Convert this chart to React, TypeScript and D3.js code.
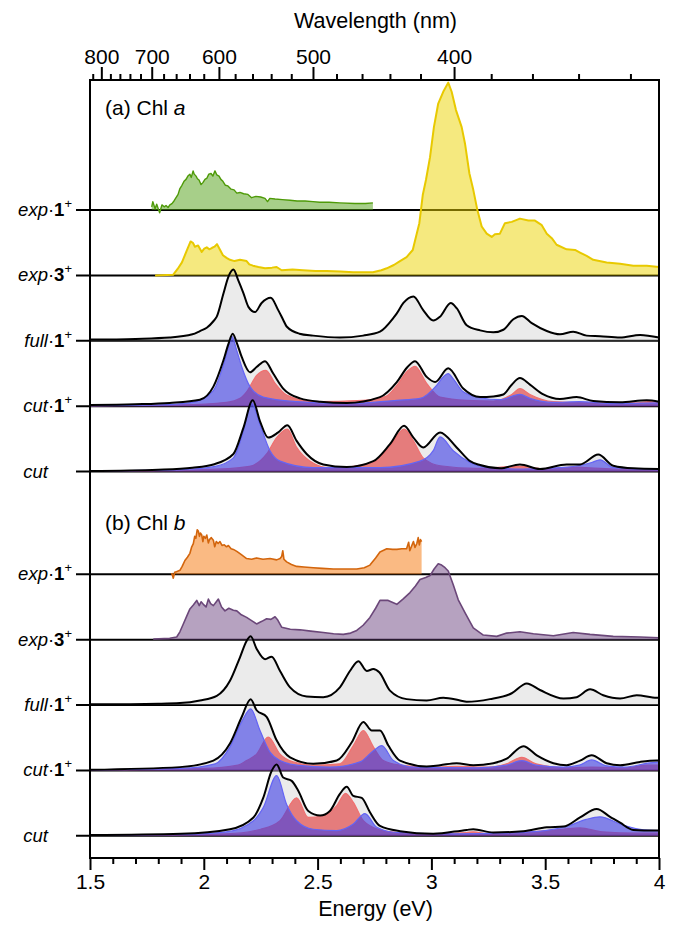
import * as d3 from 'd3';
import React, { useRef, useEffect } from 'react';

// energy axis (bottom)
const energyTicks = [1.5, 2, 2.5, 3, 3.5, 4];
const energyMinor = [1.6, 1.7, 1.8, 1.9, 2.1, 2.2, 2.3, 2.4, 2.6, 2.7, 2.8, 2.9, 3.1, 3.2, 3.3, 3.4, 3.6, 3.7, 3.8, 3.9];
// wavelength axis (top)
const wavelengthTicks = [800, 700, 600, 500, 400];
const wavelengthMinor = [820, 780, 760, 740, 720, 680, 660, 640, 620, 580, 560, 540, 520, 480, 460, 440, 420, 380, 360, 340, 320];

// [energy eV, intensity]
const expA1 = [[1.771,0.05],[1.776,0.13],[1.786,0.02],[1.793,0.09],[1.799,0.03],[1.806,-0.04],[1.816,0.08],[1.826,0.05],[1.834,0.07],[1.843,0.04],[1.851,0.08],[1.86,0.1],[1.869,0.14],[1.878,0.19],[1.887,0.24],[1.895,0.33],[1.904,0.38],[1.913,0.44],[1.922,0.47],[1.93,0.52],[1.939,0.55],[1.945,0.5],[1.953,0.6],[1.958,0.55],[1.966,0.52],[1.972,0.48],[1.979,0.46],[1.988,0.39],[1.996,0.42],[2.005,0.47],[2.014,0.49],[2.022,0.55],[2.032,0.56],[2.04,0.52],[2.049,0.6],[2.057,0.54],[2.067,0.52],[2.075,0.47],[2.084,0.44],[2.095,0.38],[2.106,0.37],[2.12,0.32],[2.133,0.31],[2.145,0.26],[2.159,0.27],[2.175,0.25],[2.194,0.24],[2.21,0.19],[2.229,0.21],[2.25,0.2],[2.269,0.18],[2.28,0.13],[2.29,0.18],[2.313,0.17],[2.345,0.16],[2.379,0.15],[2.41,0.14],[2.445,0.14],[2.48,0.13],[2.51,0.12],[2.55,0.12],[2.598,0.11],[2.664,0.1],[2.71,0.1],[2.743,0.11]];
const expA3 = [[1.786,0],[1.865,0.01],[1.885,0.1],[1.904,0.2],[1.925,0.38],[1.942,0.52],[1.952,0.5],[1.961,0.44],[1.975,0.46],[1.991,0.36],[2.002,0.41],[2.013,0.43],[2.024,0.4],[2.035,0.42],[2.047,0.44],[2.058,0.48],[2.07,0.4],[2.084,0.31],[2.1,0.27],[2.115,0.24],[2.135,0.22],[2.159,0.24],[2.188,0.22],[2.2,0.17],[2.216,0.15],[2.24,0.13],[2.269,0.11],[2.3,0.12],[2.32,0.13],[2.342,0.08],[2.39,0.09],[2.436,0.08],[2.49,0.07],[2.54,0.07],[2.6,0.06],[2.656,0.05],[2.743,0.05],[2.78,0.08],[2.804,0.11],[2.835,0.16],[2.862,0.22],[2.891,0.28],[2.918,0.39],[2.932,0.59],[2.947,0.8],[2.962,1.23],[2.976,1.46],[2.994,1.81],[3.011,2.27],[3.03,2.63],[3.052,2.81],[3.074,2.95],[3.089,2.81],[3.108,2.53],[3.133,2.27],[3.148,2.01],[3.167,1.56],[3.184,1.31],[3.202,1.0],[3.221,0.75],[3.243,0.64],[3.265,0.59],[3.279,0.63],[3.301,0.64],[3.323,0.8],[3.353,0.82],[3.389,0.87],[3.426,0.84],[3.455,0.84],[3.485,0.77],[3.507,0.64],[3.529,0.57],[3.55,0.47],[3.594,0.4],[3.631,0.39],[3.653,0.35],[3.682,0.3],[3.711,0.24],[3.77,0.2],[3.829,0.18],[3.887,0.15],[3.946,0.15],[4.0,0.13]];
const fullA = [[1.5,0.02],[1.7,0.03],[1.85,0.05],[1.95,0.1],[1.983,0.15],[2.013,0.2],[2.042,0.3],[2.057,0.37],[2.086,0.72],[2.108,0.98],[2.13,1.09],[2.152,0.92],[2.174,0.73],[2.196,0.52],[2.225,0.44],[2.254,0.58],[2.294,0.66],[2.327,0.47],[2.349,0.32],[2.364,0.22],[2.42,0.11],[2.48,0.08],[2.598,0.05],[2.7,0.08],[2.774,0.14],[2.833,0.35],[2.848,0.42],[2.877,0.58],[2.921,0.68],[2.964,0.47],[3.008,0.31],[3.038,0.37],[3.085,0.58],[3.111,0.5],[3.155,0.24],[3.214,0.16],[3.272,0.13],[3.316,0.17],[3.36,0.33],[3.397,0.38],[3.441,0.27],[3.507,0.15],[3.565,0.1],[3.623,0.14],[3.682,0.08],[3.741,0.07],[3.829,0.05],[3.917,0.09],[4.0,0.05]];
const cutA1 = [[1.5,0.02],[1.7,0.03],[1.85,0.05],[1.983,0.1],[2.042,0.3],[2.086,0.7],[2.108,0.95],[2.127,1.11],[2.145,0.97],[2.167,0.75],[2.203,0.52],[2.232,0.6],[2.269,0.69],[2.305,0.5],[2.349,0.27],[2.423,0.12],[2.511,0.07],[2.628,0.05],[2.774,0.14],[2.848,0.37],[2.895,0.6],[2.928,0.69],[2.979,0.45],[3.016,0.37],[3.074,0.58],[3.14,0.27],[3.214,0.14],[3.272,0.15],[3.316,0.18],[3.353,0.33],[3.389,0.43],[3.433,0.33],[3.492,0.18],[3.565,0.11],[3.638,0.14],[3.711,0.08],[3.829,0.06],[3.946,0.09],[4.0,0.07]];
const cutA1Blue = [[1.5,0.01],[1.8,0.02],[1.95,0.06],[2.042,0.24],[2.086,0.63],[2.108,0.9],[2.123,1.07],[2.145,0.85],[2.167,0.6],[2.203,0.3],[2.261,0.14],[2.408,0.07],[2.628,0.04],[2.848,0.09],[2.95,0.12],[3.023,0.32],[3.052,0.45],[3.074,0.5],[3.096,0.42],[3.14,0.22],[3.214,0.13],[3.301,0.1],[3.389,0.18],[3.433,0.12],[3.536,0.06],[3.65,0.07],[3.8,0.04],[4.0,0.05]];
const cutA1Red = [[1.5,0.01],[1.9,0.02],[2.1,0.06],[2.159,0.12],[2.188,0.22],[2.232,0.47],[2.273,0.55],[2.313,0.35],[2.364,0.17],[2.481,0.07],[2.701,0.09],[2.8,0.15],[2.848,0.32],[2.895,0.54],[2.928,0.61],[2.979,0.35],[3.038,0.14],[3.155,0.09],[3.272,0.08],[3.353,0.18],[3.389,0.27],[3.433,0.18],[3.536,0.07],[3.7,0.05],[3.9,0.05],[3.95,0.07],[4.0,0.05]];
const cutA = [[1.5,0.01],[1.8,0.03],[1.95,0.06],[2.042,0.11],[2.13,0.27],[2.174,0.67],[2.215,1.09],[2.247,0.77],[2.283,0.52],[2.327,0.6],[2.367,0.71],[2.408,0.47],[2.452,0.27],[2.525,0.11],[2.628,0.07],[2.745,0.16],[2.818,0.42],[2.88,0.7],[2.921,0.52],[2.964,0.37],[3.038,0.6],[3.111,0.37],[3.17,0.16],[3.214,0.1],[3.301,0.05],[3.389,0.11],[3.477,0.04],[3.594,0.11],[3.653,0.11],[3.733,0.26],[3.799,0.09],[3.887,0.05],[4.0,0.04]];
const cutABlue = [[1.5,0.01],[1.9,0.03],[2.05,0.08],[2.13,0.21],[2.174,0.62],[2.21,1.05],[2.247,0.72],[2.291,0.32],[2.335,0.16],[2.481,0.06],[2.774,0.06],[2.95,0.16],[3.008,0.32],[3.038,0.53],[3.096,0.32],[3.17,0.14],[3.25,0.06],[3.4,0.04],[3.6,0.07],[3.704,0.14],[3.741,0.18],[3.8,0.06],[4.0,0.03]];
const cutARed = [[1.5,0.01],[2.0,0.03],[2.2,0.08],[2.276,0.27],[2.32,0.52],[2.367,0.65],[2.408,0.37],[2.467,0.16],[2.554,0.06],[2.745,0.14],[2.818,0.39],[2.88,0.65],[2.921,0.47],[2.964,0.21],[3.038,0.09],[3.2,0.05],[3.389,0.08],[3.5,0.04],[3.623,0.07],[3.68,0.06],[3.8,0.04],[4.0,0.03]];

const expB1 = [[1.859,0.02],[1.866,-0.06],[1.872,0.03],[1.88,0.04],[1.895,0.06],[1.905,0.12],[1.917,0.21],[1.928,0.26],[1.939,0.32],[1.947,0.42],[1.954,0.47],[1.96,0.58],[1.965,0.55],[1.971,0.68],[1.976,0.66],[1.981,0.58],[1.985,0.63],[1.991,0.6],[1.996,0.5],[2.0,0.58],[2.007,0.55],[2.013,0.6],[2.02,0.48],[2.025,0.53],[2.033,0.56],[2.042,0.52],[2.048,0.42],[2.055,0.5],[2.063,0.47],[2.071,0.5],[2.08,0.44],[2.09,0.45],[2.1,0.42],[2.108,0.44],[2.12,0.39],[2.13,0.38],[2.145,0.35],[2.165,0.3],[2.188,0.24],[2.21,0.23],[2.232,0.25],[2.26,0.23],[2.291,0.24],[2.32,0.22],[2.335,0.24],[2.342,0.27],[2.347,0.36],[2.352,0.23],[2.364,0.19],[2.385,0.15],[2.408,0.12],[2.44,0.11],[2.481,0.1],[2.52,0.09],[2.569,0.08],[2.62,0.08],[2.672,0.08],[2.705,0.1],[2.73,0.14],[2.755,0.25],[2.774,0.34],[2.804,0.39],[2.83,0.38],[2.848,0.38],[2.87,0.39],[2.891,0.39],[2.9,0.49],[2.905,0.36],[2.914,0.44],[2.921,0.5],[2.928,0.41],[2.936,0.47],[2.942,0.56],[2.947,0.45],[2.952,0.53],[2.957,0.5]];
const expB3 = [[1.778,0.01],[1.85,0.02],[1.881,0.04],[1.895,0.12],[1.91,0.24],[1.925,0.36],[1.939,0.47],[1.954,0.53],[1.969,0.6],[1.98,0.52],[1.988,0.58],[1.998,0.54],[2.01,0.5],[2.02,0.62],[2.03,0.55],[2.042,0.52],[2.055,0.58],[2.064,0.62],[2.078,0.5],[2.093,0.44],[2.11,0.48],[2.13,0.45],[2.145,0.44],[2.165,0.38],[2.188,0.34],[2.21,0.29],[2.232,0.24],[2.255,0.28],[2.276,0.32],[2.295,0.31],[2.313,0.35],[2.325,0.3],[2.342,0.19],[2.38,0.16],[2.423,0.15],[2.47,0.13],[2.525,0.11],[2.57,0.09],[2.613,0.08],[2.645,0.1],[2.672,0.14],[2.7,0.22],[2.73,0.34],[2.755,0.48],[2.774,0.6],[2.81,0.6],[2.848,0.54],[2.875,0.62],[2.906,0.72],[2.93,0.82],[2.95,0.92],[2.975,0.95],[2.994,0.98],[3.012,1.08],[3.03,1.16],[3.045,1.14],[3.06,1.1],[3.074,1.05],[3.096,0.84],[3.118,0.61],[3.148,0.41],[3.184,0.18],[3.228,0.07],[3.287,0.05],[3.331,0.1],[3.389,0.12],[3.448,0.09],[3.536,0.06],[3.623,0.11],[3.697,0.08],[3.799,0.05],[3.917,0.04],[4.0,0.03]];
const fullB = [[1.5,0.01],[1.8,0.02],[1.895,0.03],[1.983,0.07],[2.057,0.14],[2.115,0.37],[2.159,0.73],[2.188,0.98],[2.206,1.05],[2.232,0.86],[2.269,0.7],[2.298,0.74],[2.335,0.52],[2.379,0.27],[2.452,0.13],[2.525,0.12],[2.598,0.27],[2.642,0.52],[2.679,0.67],[2.716,0.52],[2.745,0.55],[2.771,0.5],[2.818,0.22],[2.891,0.09],[2.979,0.07],[3.052,0.11],[3.126,0.07],[3.155,0.05],[3.257,0.09],[3.353,0.18],[3.419,0.33],[3.477,0.23],[3.58,0.1],[3.638,0.12],[3.697,0.24],[3.755,0.15],[3.829,0.1],[3.902,0.15],[3.99,0.11],[4.0,0.11]];
const cutB1 = [[1.5,0.01],[1.895,0.05],[2.042,0.15],[2.115,0.41],[2.167,0.82],[2.206,1.09],[2.232,0.92],[2.276,0.82],[2.32,0.46],[2.379,0.2],[2.481,0.1],[2.584,0.15],[2.65,0.43],[2.701,0.74],[2.738,0.61],[2.774,0.61],[2.811,0.38],[2.862,0.15],[2.979,0.06],[3.038,0.08],[3.111,0.11],[3.184,0.08],[3.272,0.11],[3.331,0.18],[3.404,0.37],[3.463,0.23],[3.536,0.11],[3.594,0.08],[3.653,0.15],[3.704,0.23],[3.77,0.11],[3.829,0.08],[3.917,0.13],[3.99,0.15],[4.0,0.15]];
const cutB1Blue = [[1.5,0.01],[1.9,0.03],[2.05,0.1],[2.115,0.36],[2.167,0.75],[2.206,0.94],[2.247,0.61],[2.291,0.28],[2.335,0.15],[2.408,0.08],[2.554,0.05],[2.686,0.13],[2.745,0.3],[2.782,0.38],[2.833,0.15],[2.921,0.05],[3.2,0.04],[3.33,0.08],[3.397,0.15],[3.46,0.08],[3.58,0.05],[3.65,0.08],[3.704,0.16],[3.77,0.07],[3.85,0.05],[3.95,0.11],[4.0,0.13]];
const cutB1Red = [[1.5,0.01],[2.0,0.03],[2.15,0.08],[2.188,0.15],[2.232,0.25],[2.283,0.51],[2.335,0.25],[2.393,0.13],[2.481,0.08],[2.598,0.1],[2.657,0.38],[2.701,0.61],[2.745,0.36],[2.789,0.15],[2.862,0.08],[3.0,0.05],[3.111,0.06],[3.25,0.05],[3.33,0.1],[3.397,0.2],[3.46,0.1],[3.6,0.04],[3.704,0.05],[3.85,0.04],[3.95,0.08],[4.0,0.08]];
const cutB = [[1.5,0.01],[1.9,0.03],[2.115,0.1],[2.218,0.28],[2.261,0.58],[2.298,0.99],[2.32,1.09],[2.349,0.89],[2.386,0.84],[2.415,0.69],[2.459,0.38],[2.511,0.31],[2.554,0.38],[2.598,0.64],[2.628,0.75],[2.657,0.61],[2.694,0.58],[2.73,0.36],[2.774,0.15],[2.862,0.07],[3.008,0.03],[3.155,0.09],[3.184,0.1],[3.272,0.05],[3.404,0.07],[3.507,0.13],[3.58,0.14],[3.653,0.28],[3.726,0.41],[3.785,0.29],[3.829,0.2],[3.887,0.09],[4.0,0.08]];
const cutBBlue = [[1.5,0.01],[1.9,0.02],[2.1,0.06],[2.218,0.23],[2.261,0.43],[2.32,0.92],[2.364,0.48],[2.408,0.23],[2.481,0.1],[2.584,0.08],[2.657,0.18],[2.708,0.34],[2.76,0.13],[2.848,0.05],[3.1,0.03],[3.3,0.04],[3.5,0.08],[3.6,0.15],[3.68,0.25],[3.741,0.29],[3.829,0.18],[3.917,0.1],[4.0,0.08]];
const cutBRed = [[1.5,0.01],[2.1,0.03],[2.25,0.1],[2.335,0.23],[2.408,0.58],[2.459,0.28],[2.525,0.31],[2.584,0.46],[2.623,0.65],[2.657,0.51],[2.701,0.23],[2.774,0.09],[2.848,0.05],[3.0,0.03],[3.155,0.05],[3.184,0.06],[3.25,0.03],[3.4,0.05],[3.58,0.1],[3.653,0.12],[3.75,0.06],[3.9,0.04],[4.0,0.04]];

// row baselines, in spectrum units above the bottom of the frame
const panelAOffsets = [9.91, 8.91, 7.91, 6.91, 5.91];
const panelBOffsets = [4.34, 3.34, 2.34, 1.34, 0.34];
const rowPrefixes = ['exp', 'exp', 'full', 'cut', 'cut'];
const rowNumbers = ['1', '3', '1', '1', ''];

const expStyles = [
  { stroke: '#4e9a08', fill: 'rgba(80,160,20,0.5)', width: 1.4 },
  { stroke: '#e8c900', fill: 'rgba(236,212,0,0.5)', width: 2 },
  { stroke: '#d3650c', fill: 'rgba(245,130,30,0.55)', width: 1.6 },
  { stroke: '#6b4779', fill: 'rgba(110,70,130,0.5)', width: 1.6 },
];

const App = () => {
  const ref = useRef(null);
  const width = 679, height = 933;
  const margin = { top: 80, right: 20, bottom: 75, left: 90 };

  useEffect(() => {
    const svg = d3.select(ref.current);
    svg.selectAll('*').remove();
    const font = "'Liberation Sans', Arial, sans-serif";

    const x = d3.scaleLinear().domain([1.5, 4]).range([margin.left, width - margin.right]);
    const y = d3.scaleLinear().domain([0, 11.9]).range([height - margin.bottom, margin.top]);
    const hc = 1239.84;

    // rows: table built from the arrays above
    const rows = [
      { off: panelAOffsets[0], exp: expA1, s: expStyles[0] },
      { off: panelAOffsets[1], exp: expA3, s: expStyles[1] },
      { off: panelAOffsets[2], total: fullA },
      { off: panelAOffsets[3], total: cutA1, blue: cutA1Blue, red: cutA1Red },
      { off: panelAOffsets[4], total: cutA, blue: cutABlue, red: cutARed },
      { off: panelBOffsets[0], exp: expB1, s: expStyles[2] },
      { off: panelBOffsets[1], exp: expB3, s: expStyles[3] },
      { off: panelBOffsets[2], total: fullB },
      { off: panelBOffsets[3], total: cutB1, blue: cutB1Blue, red: cutB1Red },
      { off: panelBOffsets[4], total: cutB, blue: cutBBlue, red: cutBRed },
    ].map((r, i) => ({ ...r, prefix: rowPrefixes[i % 5], num: rowNumbers[i % 5] }));

    // baselines + left ticks
    rows.forEach((r) => {
      svg.append('line')
        .attr('x1', margin.left - 14).attr('x2', width - margin.right)
        .attr('y1', y(r.off)).attr('y2', y(r.off))
        .attr('stroke', '#000').attr('stroke-width', 2);
    });

    rows.forEach((r) => {
      const area = d3.area()
        .x((d) => x(d[0]))
        .y0(y(r.off))
        .y1((d) => y(r.off + d[1]));
      const line = d3.line()
        .x((d) => x(d[0]))
        .y((d) => y(r.off + d[1]));

      if (r.exp) {
        svg.append('path').datum(r.exp).attr('d', area).attr('fill', r.s.fill);
        svg.append('path').datum(r.exp).attr('d', line)
          .attr('fill', 'none').attr('stroke', r.s.stroke).attr('stroke-width', r.s.width)
          .attr('stroke-linejoin', 'round');
      } else {
        area.curve(d3.curveMonotoneX);
        line.curve(d3.curveMonotoneX);
        svg.append('path').datum(r.total).attr('d', area).attr('fill', 'rgba(190,190,190,0.3)');
        if (r.red) {
          svg.append('path').datum(r.red).attr('d', area).attr('fill', 'rgba(225,50,50,0.6)');
          svg.append('path').datum(r.red).attr('d', line)
            .attr('fill', 'none').attr('stroke', '#f07070').attr('stroke-width', 1.2);
          svg.append('path').datum(r.blue).attr('d', area).attr('fill', 'rgba(60,60,230,0.6)');
          svg.append('path').datum(r.blue).attr('d', line)
            .attr('fill', 'none').attr('stroke', '#6464f4').attr('stroke-width', 1.2);
        }
        svg.append('path').datum(r.total).attr('d', line)
          .attr('fill', 'none').attr('stroke', '#000').attr('stroke-width', 2);
      }

      // row label
      const t = svg.append('text')
        .attr('x', 72).attr('y', y(r.off) + 6)
        .attr('text-anchor', 'end')
        .style('font-family', font).style('font-size', '18.5px');
      const hide = r.num ? 1 : 0;
      t.append('tspan').style('font-style', 'italic').text(r.prefix);
      t.append('tspan').attr('fill-opacity', hide).text('\u00b7');
      t.append('tspan').attr('fill-opacity', hide).style('font-weight', 'bold').text(r.num || '1');
      t.append('tspan').attr('fill-opacity', hide).attr('dy', -8).style('font-size', '13px').text('+');
    });

    // frame
    svg.append('rect')
      .attr('x', margin.left).attr('y', margin.top)
      .attr('width', width - margin.left - margin.right)
      .attr('height', height - margin.top - margin.bottom)
      .attr('fill', 'none').attr('stroke', '#000').attr('stroke-width', 2);

    // bottom axis
    const bottom = svg.append('g').attr('transform', 'translate(0,' + (height - margin.bottom) + ')');
    bottom.call(d3.axisBottom(x).tickValues(energyTicks).tickFormat(d3.format('')).tickSize(12).tickPadding(4));
    bottom.append('g').call(d3.axisBottom(x).tickValues(energyMinor).tickFormat(() => '').tickSize(6));
    bottom.selectAll('.domain').remove();
    bottom.selectAll('line').attr('stroke-width', 2);
    bottom.selectAll('text').style('font-family', font).style('font-size', '21px').attr('fill', '#000');

    // top axis (wavelength)
    const top = svg.append('g').attr('transform', 'translate(0,' + margin.top + ')');
    top.call(d3.axisTop(x).tickValues(wavelengthTicks.map((w) => hc / w))
      .tickFormat((e) => String(Math.round(hc / e))).tickSize(13).tickPadding(3));
    top.append('g').call(d3.axisTop(x).tickValues(wavelengthMinor.map((w) => hc / w)).tickFormat(() => '').tickSize(6));
    top.selectAll('.domain').remove();
    top.selectAll('line').attr('stroke-width', 2);
    top.selectAll('text').style('font-family', font).style('font-size', '21px').attr('fill', '#000');

    // axis titles
    svg.append('text').attr('x', (margin.left + width - margin.right) / 2 + 1).attr('y', 28)
      .attr('text-anchor', 'middle').style('font-family', font).style('font-size', '21.5px').text('Wavelength (nm)');
    svg.append('text').attr('x', (margin.left + width - margin.right) / 2 + 1).attr('y', 916)
      .attr('text-anchor', 'middle').style('font-family', font).style('font-size', '21.5px').text('Energy (eV)');

    // panel labels
    const panel = (yy, letter, chl) => {
      const t = svg.append('text').attr('x', 105).attr('y', yy)
        .style('font-family', font).style('font-size', '21px');
      t.append('tspan').text('(' + letter + ') Chl ');
      t.append('tspan').style('font-style', 'italic').text(chl);
    };
    panel(115, 'a', 'a');
    panel(530, 'b', 'b');
  });

  return (
    <div style={{ margin: '-8px' }}>
      <svg ref={ref} width={width} height={height}></svg>
    </div>
  );
};

export default App;
